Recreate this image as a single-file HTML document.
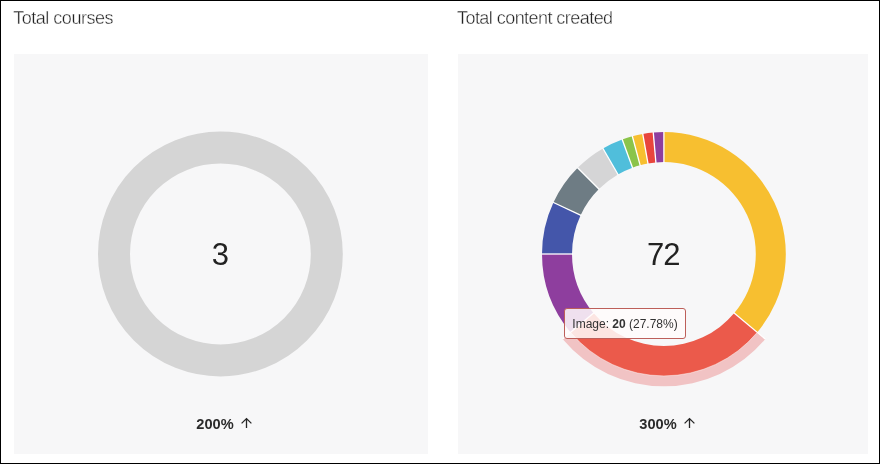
<!DOCTYPE html>
<html><head><meta charset="utf-8"><style>
html,body{margin:0;padding:0;background:#fff;}
body{width:880px;height:464px;overflow:hidden;position:relative;font-family:"Liberation Sans",Arial,sans-serif;}
.frame{position:absolute;left:0;top:0;width:880px;height:464px;box-sizing:border-box;border:1px solid #000;}
.panel{position:absolute;background:#f7f7f8;}
.title{position:absolute;font-size:18px;color:#222;-webkit-text-stroke:0.38px #fff;white-space:nowrap;line-height:20px;letter-spacing:-0.48px;}
.big{position:absolute;font-size:31px;color:#222;white-space:nowrap;line-height:30px;}
.pct{position:absolute;font-size:14.6px;font-weight:bold;color:#2b2b2b;white-space:nowrap;line-height:16px;}
.tip{position:absolute;left:563.8px;top:308.1px;width:122px;height:31.3px;box-sizing:border-box;border:1.5px solid #bd5f5a;border-radius:3px;background:rgba(255,251,251,0.86);}
.tiptxt{position:absolute;font-size:12px;color:#333;white-space:nowrap;line-height:15px;}
svg{position:absolute;left:0;top:0;}
</style></head><body>
<div class="frame"></div>
<div class="title" style="left:13.2px;top:8px;">Total courses</div>
<div class="title" style="left:457px;top:8px;letter-spacing:-0.55px;">Total content created</div>
<div class="panel" style="left:14px;top:54.3px;width:413.6px;height:399.7px;"></div>
<div class="panel" style="left:457.6px;top:54.3px;width:410.4px;height:399.7px;"></div>
<svg width="880" height="464" viewBox="0 0 880 464">
<circle cx="220.4" cy="254" r="106.4" fill="none" stroke="#d5d5d5" stroke-width="32"/>
<path d="M765.25 339.04A132.3 132.3 0 0 1 562.55 339.04L571.29 331.71A120.9 120.9 0 0 0 756.51 331.71Z" fill="#f1c3c4"/>
<path d="M663.90 132.10A121.9 121.9 0 0 1 757.28 332.36L734.30 313.07A91.9 91.9 0 0 0 663.90 162.10Z" fill="#f7bf30"/>
<path d="M757.28 332.36A121.9 121.9 0 0 1 570.52 332.36L593.50 313.07A91.9 91.9 0 0 0 734.30 313.07Z" fill="#eb5a4b"/>
<path d="M570.52 332.36A121.9 121.9 0 0 1 542.00 254.00L572.00 254.00A91.9 91.9 0 0 0 593.50 313.07Z" fill="#8e3e9e"/>
<path d="M542.00 254.00A121.9 121.9 0 0 1 553.42 202.48L580.61 215.16A91.9 91.9 0 0 0 572.00 254.00Z" fill="#4456aa"/>
<path d="M553.42 202.48A121.9 121.9 0 0 1 577.70 167.80L598.92 189.02A91.9 91.9 0 0 0 580.61 215.16Z" fill="#6e7c84"/>
<path d="M577.70 167.80A121.9 121.9 0 0 1 602.95 148.43L617.95 174.41A91.9 91.9 0 0 0 598.92 189.02Z" fill="#d5d5d6"/>
<path d="M602.95 148.43A121.9 121.9 0 0 1 622.21 139.45L632.47 167.64A91.9 91.9 0 0 0 617.95 174.41Z" fill="#50bedb"/>
<path d="M622.21 139.45A121.9 121.9 0 0 1 632.35 136.25L640.11 165.23A91.9 91.9 0 0 0 632.47 167.64Z" fill="#8bc44a"/>
<path d="M632.35 136.25A121.9 121.9 0 0 1 642.73 133.95L647.94 163.50A91.9 91.9 0 0 0 640.11 165.23Z" fill="#f7bf30"/>
<path d="M642.73 133.95A121.9 121.9 0 0 1 653.28 132.56L655.89 162.45A91.9 91.9 0 0 0 647.94 163.50Z" fill="#e8453c"/>
<path d="M653.28 132.56A121.9 121.9 0 0 1 663.90 132.10L663.90 162.10A91.9 91.9 0 0 0 655.89 162.45Z" fill="#8e3e9e"/>
<path d="M757.28 332.36A121.9 121.9 0 0 1 570.52 332.36" fill="none" stroke="#fff" stroke-opacity="0.45" stroke-width="1"/>
<g stroke="#fff" stroke-width="1.3"><line x1="663.90" y1="163.10" x2="663.90" y2="131.60"/><line x1="733.53" y1="312.43" x2="765.25" y2="339.04"/><line x1="594.27" y1="312.43" x2="562.55" y2="339.04"/><line x1="573.00" y1="254.00" x2="541.50" y2="254.00"/><line x1="581.52" y1="215.58" x2="552.97" y2="202.27"/><line x1="599.62" y1="189.72" x2="577.35" y2="167.45"/><line x1="618.45" y1="175.28" x2="602.70" y2="148.00"/><line x1="632.81" y1="168.58" x2="622.04" y2="138.98"/><line x1="640.37" y1="166.20" x2="632.22" y2="135.77"/><line x1="648.12" y1="164.48" x2="642.65" y2="133.46"/><line x1="655.98" y1="163.45" x2="653.23" y2="132.07"/></g>

</svg>
<div class="big" style="left:211.8px;top:240px;">3</div>
<div class="big" style="left:647px;top:240px;letter-spacing:-1px;">72</div>
<div class="pct" style="left:196.3px;top:415.5px;">200%</div>
<div class="pct" style="left:639.3px;top:415.5px;">300%</div>
<svg width="880" height="464" viewBox="0 0 880 464" fill="none" stroke="#262626" stroke-width="1.3">
<path d="M246.5 419V427.9M241.6 423.4L246.5 418.6L251.4 423.4"/>
<path d="M689.5 419V427.9M684.6 423.4L689.5 418.6L694.4 423.4"/>
</svg>
<div class="tip"></div>
<div class="tiptxt" style="left:572.3px;top:316.6px;">Image: <b>20</b> (27.78%)</div>
</body></html>
